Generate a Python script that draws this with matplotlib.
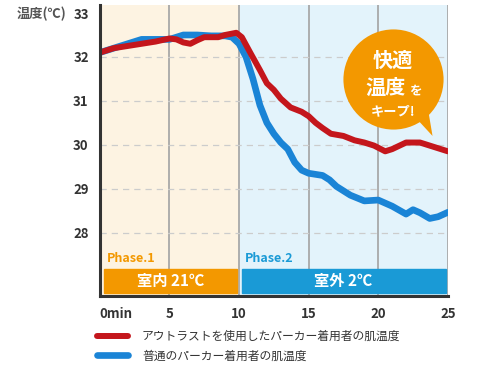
import matplotlib
matplotlib.use("Agg")
import matplotlib.pyplot as plt
from matplotlib.patches import Polygon, Rectangle

plt.rcParams['font.family'] = ['Noto Sans CJK JP', 'DejaVu Sans']

# time (min) and skin temperature for the two jackets
t_red = [0, 1, 2, 3, 4, 5, 5.5, 6, 6.5, 7, 7.5, 8, 8.5, 9, 9.8, 10.2, 10.8, 11.5, 12, 12.5,
         13, 13.7, 14.5, 15, 15.5, 16, 16.6, 17.5, 18.3, 19, 19.7, 20.5, 21, 22, 23, 24, 25]
temp_red = [32.1, 32.2, 32.25, 32.3, 32.35, 32.42, 32.4, 32.33, 32.3, 32.38, 32.45, 32.45, 32.45,
            32.5, 32.55, 32.45, 32.1, 31.7, 31.4, 31.25, 31.05, 30.85, 30.75, 30.65, 30.5, 30.38,
            30.25, 30.2, 30.1, 30.05, 29.98, 29.85, 29.9, 30.05, 30.05, 29.95, 29.85]

t_blue = [0, 1, 2, 3, 4, 5, 6, 7, 8, 9, 9.5, 10, 10.5, 11, 11.5, 12, 12.5, 13, 13.5, 14, 14.5,
          15, 16, 16.5, 17, 18, 19, 20, 21, 22, 22.5, 23, 23.7, 24.3, 25]
temp_blue = [32.1, 32.2, 32.3, 32.4, 32.4, 32.4, 32.5, 32.5, 32.48, 32.48, 32.45, 32.3, 32.0,
             31.5, 30.9, 30.5, 30.25, 30.05, 29.9, 29.6, 29.42, 29.35, 29.3, 29.2, 29.05, 28.85,
             28.72, 28.74, 28.6, 28.42, 28.52, 28.45, 28.32, 28.36, 28.46]

labels = ["アウトラストを使用したパーカー着用者の肌温度", "普通のパーカー着用者の肌温度"]
xticks = [0, 5, 10, 15, 20, 25]
xtick_labels = ["0min", "5", "10", "15", "20", "25"]
yticks = [28, 29, 30, 31, 32, 33]

orange = "#f39800"
blue_phase = "#1a9ad6"
red = "#c4161c"
blue = "#1a84d6"

fig = plt.figure(figsize=(4.8, 3.67), dpi=100)
ax = fig.add_axes([0.208, 0.193, 0.725, 0.793])
ax.set_xlim(0, 25)
ax.set_ylim(26.55, 33.18)

# phase backgrounds
ax.axvspan(0, 10, color="#fdf3e2", zorder=0)
ax.axvspan(10, 25, color="#e3f3fb", zorder=0)

for x in xticks[1:]:
    ax.axvline(x, color="#a8a8a8", lw=1.3, zorder=1)
for y in yticks[:-1]:
    ax.axhline(y, color="#cccccc", lw=0.9, ls=(0, (5, 4)), zorder=1)

ax.plot(t_blue, temp_blue, color=blue, lw=4.8, solid_capstyle="round", solid_joinstyle="round",
        zorder=3, label=labels[1])
ax.plot(t_red, temp_red, color=red, lw=4.3, solid_capstyle="round", solid_joinstyle="round",
        zorder=4, label=labels[0])

# phase bars
ax.add_patch(Rectangle((0.3, 26.63), 9.55, 0.55, color=orange, zorder=5))
ax.add_patch(Rectangle((10.2, 26.63), 14.65, 0.55, color=blue_phase, zorder=5))
ax.text(5.1, 26.905, "室内 21℃", color="white", fontsize=11, fontweight="bold",
        ha="center", va="center", zorder=6)
ax.text(17.5, 26.905, "室外 2℃", color="white", fontsize=11, fontweight="bold",
        ha="center", va="center", zorder=6)
ax.text(0.5, 27.25, "Phase.1", color=orange, fontsize=9, fontweight="bold", va="bottom", zorder=6)
ax.text(10.4, 27.25, "Phase.2", color=blue_phase, fontsize=9, fontweight="bold", va="bottom", zorder=6)

# speech bubble
ax.scatter([21.05], [31.49], s=5200, color=orange, zorder=7, linewidths=0)
ax.add_patch(Polygon([[22.3, 30.75], [23.5, 30.95], [23.9, 30.2]], closed=True,
                     color=orange, zorder=7, lw=0))
ax.text(21.05, 31.92, "快適", color="white", fontsize=14.5, fontweight="bold",
        ha="center", va="center", zorder=8)
ax.text(20.55, 31.3, "温度", color="white", fontsize=14.5, fontweight="bold",
        ha="center", va="center", zorder=8)
ax.text(22.65, 31.22, "を", color="white", fontsize=9, fontweight="bold",
        ha="center", va="center", zorder=8)
ax.text(21.1, 30.77, "キープ!", color="white", fontsize=9.5, fontweight="bold",
        ha="center", va="center", zorder=8)

ax.set_xticks(xticks)
ax.set_xticklabels(xtick_labels)
ax.set_yticks(yticks)
ax.tick_params(length=0, labelsize=9.5, colors="#333333", pad=8)
for lab in ax.get_xticklabels() + ax.get_yticklabels():
    lab.set_fontweight("bold")
ax.get_xticklabels()[0].set_ha("left")
ax.get_xticklabels()[0].set_x(-0.15)

for side in ["top", "right"]:
    ax.spines[side].set_visible(False)
for side in ["left", "bottom"]:
    ax.spines[side].set_color("#333333")
    ax.spines[side].set_linewidth(2.2)
    ax.spines[side].set_zorder(9)

fig.text(0.035, 0.963, "温度(℃)", fontsize=9.5, color="#555555", fontweight="bold", va="center")

h, l = ax.get_legend_handles_labels()
fig.legend(h[::-1], l[::-1], loc="upper left", bbox_to_anchor=(0.18, 0.13), frameon=False,
           fontsize=8.5, handlelength=2.6, handletextpad=1.2, labelspacing=0.55,
           labelcolor="#333333")

fig.savefig("out.png", dpi=100)
